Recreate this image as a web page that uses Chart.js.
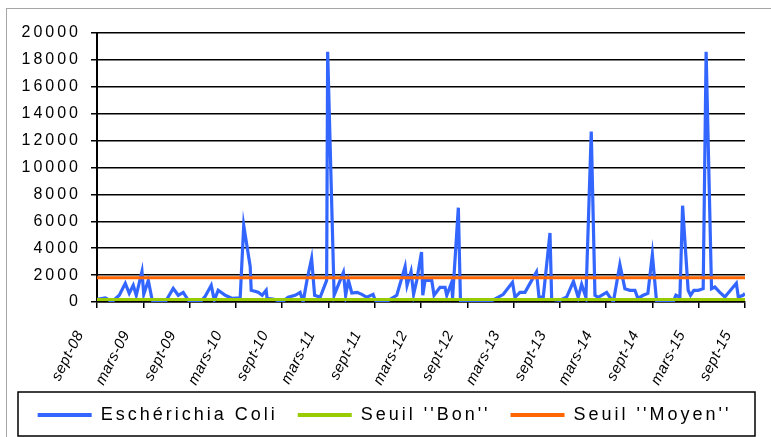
<!DOCTYPE html>
<html><head><meta charset="utf-8">
<script src="https://cdn.jsdelivr.net/npm/chart.js@4.4.1/dist/chart.umd.min.js"></script>
<style>html,body{margin:0;padding:0;background:#fff;}#wrap{width:771px;height:437px;}</style>
</head><body><div id="wrap"><canvas id="c" width="771" height="437"></canvas></div>
<script>
// Tick labels (one every 6 months, starting Sept 2008)
const xTickLabels = ['sept-08','mars-09','sept-09','mars-10','sept-10','mars-11','sept-11','mars-12','sept-12','mars-13','sept-13','mars-14','sept-14','mars-15','sept-15'];
const yTicks = [0,2000,4000,6000,8000,10000,12000,14000,16000,18000,20000];

// Sample dates expressed in months elapsed since Sept 2008
const sampleMonths = [0.0,1.08,1.94,2.89,3.67,4.18,4.70,5.09,5.83,6.06,6.65,7.16,7.81,8.85,9.88,10.53,11.18,11.83,12.47,13.38,14.03,14.81,15.20,15.71,16.62,17.53,18.56,19.02,19.86,19.99,20.89,21.41,21.93,22.05,22.97,24.00,24.78,25.69,26.33,26.72,27.24,27.82,28.21,28.93,29.77,29.90,30.74,31.94,32.23,32.59,33.03,33.72,34.33,34.97,35.79,36.05,36.70,37.60,37.99,38.86,39.94,40.19,40.71,41.04,41.45,42.07,42.23,42.53,43.39,43.69,44.47,45.12,45.34,45.98,46.09,46.84,47.12,48.36,49.65,51.33,52.67,53.86,54.18,54.83,55.48,56.35,56.97,57.29,57.85,58.72,58.94,60.01,60.44,60.88,61.76,62.38,62.82,63.38,64.07,64.55,64.97,66.06,66.49,66.94,67.78,68.43,69.08,69.73,70.11,70.80,71.41,71.99,72.54,73.19,74.69,75.04,75.56,75.91,76.63,76.94,77.37,77.93,78.58,78.96,79.66,80.09,80.74,81.39,82.88,83.13,83.76,83.98];
// Escherichia coli counts
const ecoli = [200,310,20,500,1390,650,1240,500,2270,570,1600,120,0,0,1010,500,720,130,0,0,420,1240,130,870,500,270,310,5680,2640,870,720,500,870,270,200,0,350,500,720,0,1680,3240,500,350,1610,18600,500,2200,500,1610,670,720,570,350,570,130,0,50,200,500,2640,1240,2270,570,1610,3720,500,1610,1610,500,1090,1090,500,1460,270,7010,0,0,0,130,570,1460,350,720,720,1610,2240,370,370,5130,200,130,250,370,1530,350,1310,350,12670,500,350,720,350,20,2790,990,870,870,270,500,640,3530,0,0,0,500,350,7160,870,500,870,870,990,18600,990,1110,720,370,1390,370,500,640];
const seuilBon = 180;
const seuilMoyen = 1800;
const periodEnd = 84;

const BaseLinear = Chart.LinearScale || Chart.registry.getScale('linear');
class SpacedX extends BaseLinear {
  static id = 'spacedX';
  static defaults = BaseLinear.defaults;
  drawLabels(area) {
    const g = this.ctx; g.save(); g.letterSpacing = '0.5px'; super.drawLabels(area); g.restore();
  }
}
Chart.register(SpacedX);

const spacingPlugin = {
  id: 'spacing',
  beforeUpdate(c) { c.ctx.letterSpacing = '3px'; },
  beforeLayout(c) { c.ctx.letterSpacing = '3px'; },
  afterLayout(c) { if (c.legend) { c.legend.left += 12; c.legend.right += 12; } },
  beforeDraw(c) { c.ctx.letterSpacing = '3px'; }
};
const framePlugin = {
  id: 'frame',
  afterDraw(c) {
    const g = c.ctx; g.save(); g.letterSpacing = '0px';
    g.strokeStyle = '#A6A6A6'; g.lineWidth = 1; g.strokeRect(6.5, 8.5, 800, 500);
    g.strokeStyle = '#000'; g.lineWidth = 1.5; g.strokeRect(18, 392, 737, 44);
    g.restore();
  }
};

const font = 'Liberation Sans';
new Chart(document.getElementById('c'), {
  type: 'line',
  data: {
    datasets: [
      { label: 'Eschérichia Coli', data: sampleMonths.map((m, i) => ({ x: m, y: ecoli[i] })), borderColor: '#3366FF', backgroundColor: '#3366FF', borderWidth: 3.2, pointRadius: 0, tension: 0, order: 2 },
      { label: "Seuil ''Bon''", data: [{ x: 0, y: seuilBon }, { x: periodEnd, y: seuilBon }], borderColor: '#99CC00', backgroundColor: '#99CC00', borderWidth: 3, pointRadius: 0, order: 1 },
      { label: "Seuil ''Moyen''", data: [{ x: 0, y: seuilMoyen }, { x: periodEnd, y: seuilMoyen }], borderColor: '#FF6600', backgroundColor: '#FF6600', borderWidth: 3, pointRadius: 0, order: 0 }
    ]
  },
  options: {
    responsive: false, animation: false, events: [],
    layout: { padding: { top: 33, left: 0, right: 26, bottom: 3 } },
    scales: {
      x: {
        type: 'spacedX', min: 0, max: periodEnd,
        afterBuildTicks: s => { s.ticks = xTickLabels.map((_, i) => ({ value: i * 6 })); },
        afterFit: s => { s.height = 84; s.paddingLeft = 0; s.paddingRight = 0; },
        grid: { drawOnChartArea: false, drawTicks: true, tickLength: 6, color: '#000', lineWidth: 1.5 },
        border: { display: true, color: '#000', width: 1.5 },
        ticks: { autoSkip: false, minRotation: 63, maxRotation: 63, padding: 20, labelOffset: -17, color: '#000',
          font: { family: font, size: 15, style: 'italic' },
          callback: v => xTickLabels[Math.round(v / 6)] }
      },
      y: {
        min: 0, max: 20000,
        afterBuildTicks: s => { s.ticks = yTicks.map(v => ({ value: v })); },
        afterFit: s => { s.width = 97; s.paddingTop = 0; s.paddingBottom = 0; },
        grid: { color: '#000', lineWidth: 1.5, tickLength: 6 },
        border: { display: true, color: '#000', width: 2 },
        ticks: { padding: 10, color: '#000', font: { family: font, size: 16 }, callback: v => String(v) }
      }
    },
    plugins: {
      tooltip: { enabled: false },
      legend: {
        position: 'bottom',
        labels: {
          boxWidth: 54, boxHeight: 4, padding: 20, color: '#000',
          font: { family: font, size: 18 },
          generateLabels: ch => ch.data.datasets.map((ds, i) => ({ text: ds.label, fillStyle: ds.borderColor, strokeStyle: ds.borderColor, lineWidth: 0, hidden: false, datasetIndex: i, fontColor: '#000' }))
        }
      }
    }
  },
  plugins: [spacingPlugin, framePlugin]
});
</script></body></html>
